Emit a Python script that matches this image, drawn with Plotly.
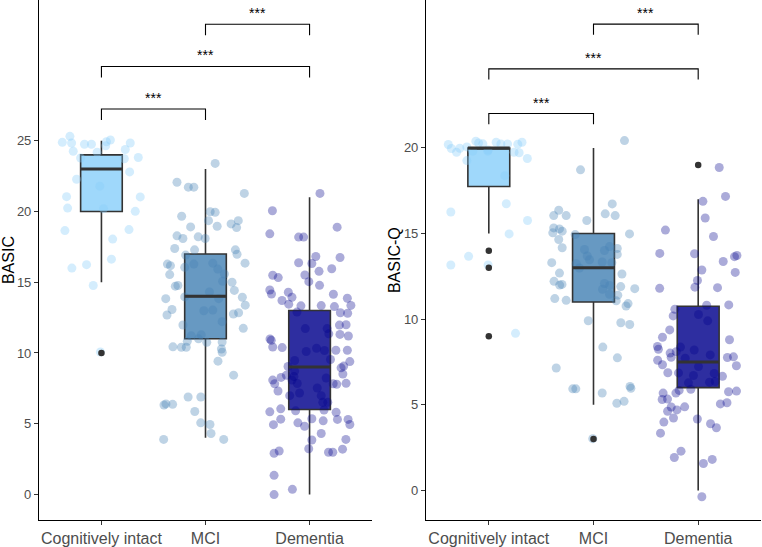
import plotly.graph_objects as go

# ---------------- data ----------------
categories = ["Cognitively intact", "MCI", "Dementia"]
positions = [1, 2, 3]

# BASIC panel: jittered observations (value, horizontal jitter offset)
basic_intact_y = [24.89, 25.31, 24.84, 24.26, 24.75, 24.75, 24.19, 24.93, 25.05, 24.65, 24.38, 24.84,
                  23.82, 23.73, 22.8, 22.28, 23.78, 21.05, 20.24, 21.03, 20.01, 18.65, 18.72, 18.05,
                  21.79, 16.63, 16.0, 16.24, 14.77, 10.07, 20.2]
basic_intact_dx = [-0.376, -0.303, -0.287, -0.271, -0.163, -0.096, -0.041, 0.048, 0.086, 0.041, 0.229, 0.277,
                   0.354, 0.22, 0.271, -0.239, -0.2, -0.335, -0.325, 0.373, 0.325, -0.351, 0.265, 0.108,
                   -0.016, 0.096, -0.284, -0.143, -0.079, -0.01, 0.02]

basic_mci_y = [23.40, 22.07, 21.72, 21.72, 21.28, 19.66, 18.91, 19.35, 19.98, 19.94, 18.96, 19.12, 19.35,
               18.86, 18.28, 18.09, 18.21, 18.09, 17.38, 17.29, 17.29, 16.98, 16.35, 16.28, 16.17, 16.92,
               14.77, 15.00, 14.42, 13.84, 13.94, 13.38, 13.07, 16.28, 16.35, 15.93, 15.07, 14.31, 13.84,
               16.05, 13.96, 15.58, 15.54, 14.72, 12.68, 11.98, 12.98, 12.21, 12.75, 12.84, 11.74, 10.43,
               10.40, 10.40, 10.82, 11.0, 10.75, 10.77, 10.28, 10.05, 9.42, 8.43, 6.89, 6.89, 6.32, 6.40,
               6.37, 5.86, 5.06, 4.94, 4.31, 3.89, 3.89, 11.21, 11.28, 13.03]
basic_mci_dx = [0.093, -0.274, -0.165, -0.112, 0.373, -0.229, -0.143, 0.029, 0.045, 0.093, 0.112, 0.246, 0.315,
                0.299, -0.274, -0.217, -0.07, -0.003, -0.296, -0.105, 0.287, 0.303, 0.38, -0.366, -0.337, -0.191,
                -0.265, 0.255, 0.277, -0.382, 0.354, 0.382, -0.322, -0.112, 0.07, 0.118, 0.165, 0.038, 0.127,
                -0.2, -0.2, 0.182, -0.344, -0.29, -0.37, -0.217, -0.016, 0.16, 0.268, 0.318, 0.363, -0.313,
                -0.232, -0.185, -0.175, -0.067, 0.012, 0.16, 0.153, 0.16, 0.12, 0.27, -0.167, -0.045, -0.399, -0.38,
                -0.316, -0.103, -0.046, 0.043, 0.053, 0.175, -0.402, -0.137, -0.041, 0.07]

basic_dem_y = [21.28, 20.05, 18.89, 18.42, 18.19, 18.19, 16.82, 16.75, 16.38, 16.32, 15.95, 15.77, 15.49,
               15.33, 15.51, 15.04, 14.78, 14.45, 14.17, 14.29, 13.94, 14.15, 13.87, 13.71, 13.45, 13.33,
               13.35, 13.28, 13.36, 12.84, 12.81, 10.99, 10.89, 10.42, 10.38, 11.31, 11.2, 11.99, 10.19,
               9.39, 8.51, 10.19, 9.07, 7.85, 7.79, 8.08, 7.82, 7.31, 8.27, 9.04, 5.84, 4.93, 6.05, 5.32,
               5.91, 5.06, 4.82, 5.35, 5.20, 5.97, 5.81, 5.30, 5.30, 4.94, 4.31, 3.85, 3.23, 2.98, 2.98,
               3.20, 3.89, 2.91, 3.07, 1.35, -0.01, 0.36, 11.72, 12.89, 11.72, 11.35, 10.10, 10.17, 9.54,
               9.47, 8.72, 8.09, 7.84, 7.17, 7.52, 6.98, 8.23, 7.82, 8.33, 6.51, 6.51, 6.98, 8.42, 8.95,
               11.97, 10.33]
basic_dem_dx = [0.100, -0.357, 0.265, -0.382, -0.105, -0.057, 0.06, 0.293, -0.105, 0.022, 0.213, 0.091, -0.354,
                -0.301, -0.045, -0.007, 0.096, -0.382, -0.366, -0.204, -0.169, 0.229, 0.363, -0.265, -0.2, -0.083,
                0.112, 0.239, 0.397, 0.296, 0.366, -0.38, -0.368, -0.354, -0.263, 0.292, 0.373, 0.351, 0.363,
                0.387, 0.32, 0.253, 0.328, 0.351, 0.261, -0.354, -0.335, -0.303, -0.274, -0.207, -0.382, -0.347,
                -0.277, -0.277, -0.134, -0.112, -0.048, 0.022, 0.131, 0.139, 0.255, 0.268, 0.37, 0.387, 0.112,
                0.022, -0.008, 0.182, 0.223, 0.317, 0.349, -0.341, -0.292, -0.341, -0.341, -0.165, -0.041,
                -0.121, 0.169, 0.185, -0.032, 0.143, 0.201, -0.143, -0.143, -0.169, -0.118, -0.096, 0.074,
                0.112, 0.16, 0.227, -0.15, 0.127, 0.175, -0.191, -0.223, 0.303, 0.287, 0.067]

# BASIC box statistics (intact, MCI, dementia)
basic_q1 = [20, 11, 6]
basic_median = [23, 14, 9]
basic_q3 = [24, 17, 13]
basic_low = [15, 4, 0]
basic_high = [25, 23, 21]
basic_outliers_x = [1]
basic_outliers_y = [10]

# BASIC-Q panel
basicq_intact_y = [20.20, 19.97, 19.75, 20.06, 20.39, 20.29, 20.24, 19.88, 20.33, 20.23, 20.23, 19.75, 20.22,
                   20.33, 19.72, 19.38, 19.26, 19.81, 19.81, 18.38, 16.26, 16.74, 15.76, 14.98, 13.67, 13.16,
                   13.16, 9.17, 19.98]
basicq_intact_dx = [-0.387, -0.358, -0.308, -0.21, -0.124, -0.098, -0.057, -0.007, 0.07, 0.115, 0.179, 0.241,
                    0.277, 0.317, 0.29, 0.368, -0.21, -0.153, -0.01, 0.153, -0.363, 0.167, 0.37, 0.194, -0.193,
                    -0.363, -0.007, 0.255, -0.277]

basicq_mci_y = [20.43, 18.72, 16.73, 16.36, 16.05, 16.05, 15.76, 16.15, 16.05, 15.33, 15.04, 15.27, 15.14,
                14.94, 14.98, 14.65, 14.17, 14.07, 13.69, 13.24, 14.01, 14.24, 14.13, 13.78, 13.30, 12.69,
                13.34, 13.30, 12.64, 12.21, 11.99, 12.03, 12.08, 11.97, 11.74, 11.9, 11.78, 11.4, 11.45,
                11.2, 11.1, 11.07, 10.77, 10.91, 9.91, 9.79, 9.69, 7.15, 8.37, 7.74, 5.93, 5.93, 5.69,
                5.09, 5.2, 6.07, 5.96, 3.02, 12.99, 13.47]
basicq_mci_dx = [0.296, -0.124, 0.179, -0.332, -0.38, -0.261, -0.064, 0.112, 0.207, -0.38, -0.389, -0.325,
                 -0.299, -0.175, 0.344, -0.332, -0.299, -0.086, -0.06, -0.165, 0.105, 0.153, 0.227, 0.227,
                 -0.399, -0.325, 0.083, 0.175, 0.272, -0.377, -0.323, -0.301, 0.105, 0.155, 0.086, 0.26,
                 0.394, 0.232, 0.153, -0.37, -0.261, 0.217, 0.311, 0.33, -0.05, 0.261, 0.346, -0.356, 0.089,
                 0.228, -0.198, -0.169, 0.083, 0.223, 0.292, 0.349, 0.357, -0.007, -0.134, -0.038]

basicq_dem_y = [18.86, 16.88, 17.17, 15.91, 15.2, 14.83, 13.84, 13.82, 13.37, 13.65, 13.72, 12.87, 12.73,
                12.26, 11.87, 11.84, 11.8, 10.81, 10.83, 10.58, 10.19, 10.27, 9.9, 9.37, 8.94, 8.8, 8.40,
                8.24, 8.37, 8.02, 7.77, 8.10, 7.72, 8.2, 7.91, 7.76, 7.8, 7.28, 7.6, 7.34, 6.87, 6.86, 6.71,
                7.23, 6.83, 6.66, 6.28, 6.32, 6.36, 5.84, 5.68, 5.9, 5.68, 5.31, 5.33, 5.76, 5.8, 5.05, 5.12,
                4.87, 4.7, 4.88, 4.23, 4.17, 3.89, 3.66, 3.99, 3.34, 2.29, 1.92, 1.57, 1.81, -0.37, 4.62]
basicq_dem_dx = [0.201, 0.045, 0.261, 0.067, -0.313, 0.146, -0.367, -0.035, 0.239, 0.347, 0.37, 0.035, 0.354,
                 -0.007, -0.031, 0.185, -0.368, 0.081, 0.292, -0.223, -0.239, 0.003, 0.091, -0.272, -0.341,
                 0.299, -0.389, -0.38, -0.169, -0.268, -0.258, -0.21, -0.124, -0.038, 0.115, 0.279, 0.337,
                 0.365, -0.387, -0.341, -0.29, -0.188, -0.045, 0.003, 0.153, 0.232, -0.093, 0.108, 0.163,
                 -0.182, -0.213, -0.07, -0.335, -0.344, -0.293, 0.29, 0.366, 0.212, 0.275, -0.258, -0.203,
                 -0.129, -0.236, -0.008, 0.118, 0.174, -0.328, -0.36, -0.164, -0.228, 0.05, 0.134, 0.035, -0.292]

basicq_q1 = [17.75, 11, 6]
basicq_median = [20, 13, 7.5]
basicq_q3 = [20, 15, 10.75]
basicq_low = [15, 5, 0]
basicq_high = [20, 20, 17]
basicq_outliers_x = [1, 1, 1, 2, 3]
basicq_outliers_y = [14, 13, 9, 3, 19]

# significance comparisons (pairs of group positions) and bracket heights
comparisons = [(1, 2), (1, 3), (2, 3)]
comparison_labels = ["***", "***", "***"]
basic_bracket_y = [27.25, 30.25, 33.24]
basicq_bracket_y = [22.01, 24.62, 27.23]

# ---------------- style ----------------
W, H = 762, 547
box_fill = ["rgba(135,206,250,0.8)", "rgba(70,130,180,0.82)", "rgba(0,0,139,0.82)"]
point_col = ["rgba(135,206,250,0.36)", "rgba(70,130,180,0.35)", "rgba(0,0,139,0.33)"]
edge = "#333333"
FONT = "Liberation Sans, Arial, sans-serif"
BOX_W = 0.4

fig = go.Figure()


def add_panel(xa, ya, groups_y, groups_dx, q1, med, q3, low, high, out_x, out_y,
              bracket_y, tip_drop):
    # jittered points
    for i, (ys, dxs) in enumerate(zip(groups_y, groups_dx)):
        fig.add_trace(go.Scatter(
            x=[positions[i] + d for d in dxs], y=ys, mode="markers",
            marker=dict(size=9, color=point_col[i], line=dict(width=0)),
            xaxis=xa, yaxis=ya, showlegend=False, hoverinfo="skip"))
    # boxes
    for i in range(3):
        fig.add_trace(go.Box(
            x=[positions[i]], q1=[q1[i]], median=[med[i]], q3=[q3[i]],
            lowerfence=[low[i]], upperfence=[high[i]], width=BOX_W,
            fillcolor=box_fill[i], line=dict(color=edge, width=1.6),
            boxpoints=False, whiskerwidth=0, xaxis=xa, yaxis=ya, showlegend=False,
            hoverinfo="skip"))
        # thick median
        fig.add_trace(go.Scatter(
            x=[positions[i] - BOX_W / 2, positions[i] + BOX_W / 2], y=[med[i], med[i]],
            mode="lines", line=dict(color=edge, width=3), xaxis=xa, yaxis=ya,
            showlegend=False, hoverinfo="skip"))
    # outliers
    fig.add_trace(go.Scatter(
        x=out_x, y=out_y, mode="markers", marker=dict(size=6.5, color=edge),
        xaxis=xa, yaxis=ya, showlegend=False, hoverinfo="skip"))
    # brackets
    for (a, b), by, lab in zip(comparisons, bracket_y, comparison_labels):
        fig.add_trace(go.Scatter(
            x=[a, a, b, b], y=[by - tip_drop, by, by, by - tip_drop], mode="lines",
            line=dict(color="black", width=1.1), xaxis=xa, yaxis=ya,
            showlegend=False, hoverinfo="skip"))
        fig.add_annotation(x=(a + b) / 2, y=by, xref=xa, yref=ya, text=lab,
                           showarrow=False, yanchor="bottom", yshift=1,
                           font=dict(size=14, color="black", family=FONT))


add_panel("x", "y", [basic_intact_y, basic_mci_y, basic_dem_y],
          [basic_intact_dx, basic_mci_dx, basic_dem_dx],
          basic_q1, basic_median, basic_q3, basic_low, basic_high,
          basic_outliers_x, basic_outliers_y, basic_bracket_y, 0.78)
add_panel("x2", "y2", [basicq_intact_y, basicq_mci_y, basicq_dem_y],
          [basicq_intact_dx, basicq_mci_dx, basicq_dem_dx],
          basicq_q1, basicq_median, basicq_q3, basicq_low, basicq_high,
          basicq_outliers_x, basicq_outliers_y, basicq_bracket_y, 0.62)

axis_common = dict(showline=True, linecolor="black", linewidth=1.1, ticks="outside",
                   ticklen=4, tickwidth=1.1, tickcolor=edge, showgrid=False, zeroline=False,
                   fixedrange=True)
ydom = [23 / H, 1]
fig.update_layout(
    width=W, height=H, margin=dict(l=0, r=0, t=0, b=0),
    paper_bgcolor="white", plot_bgcolor="white",
    font=dict(family=FONT, color="#4d4d4d"),
    xaxis=dict(domain=[39 / W, 372 / W], range=[0.4, 3.6], tickvals=positions, ticktext=categories,
               tickfont=dict(size=16, color="#4d4d4d"), anchor="y", **axis_common),
    yaxis=dict(domain=ydom, range=[-1.82, 34.95], tickvals=[0, 5, 10, 15, 20, 25],
               tickfont=dict(size=13, color="#4d4d4d"), anchor="x", **axis_common),
    xaxis2=dict(domain=[426 / W, 761 / W], range=[0.4, 3.6], tickvals=positions, ticktext=categories,
                tickfont=dict(size=16, color="#4d4d4d"), anchor="y2", **axis_common),
    yaxis2=dict(domain=ydom, range=[-1.74, 28.64], tickvals=[0, 5, 10, 15, 20],
                tickfont=dict(size=13, color="#4d4d4d"), anchor="x2", **axis_common),
)
fig.add_annotation(x=8 / W, y=1 - 262 / H, xref="paper", yref="paper", text="BASIC",
                   textangle=-90, showarrow=False, xanchor="center", yanchor="middle",
                   font=dict(size=16, color="black", family=FONT))
fig.add_annotation(x=394 / W, y=1 - 262 / H, xref="paper", yref="paper", text="BASIC-Q",
                   textangle=-90, showarrow=False, xanchor="center", yanchor="middle",
                   font=dict(size=16, color="black", family=FONT))

fig.write_html("out.html")
